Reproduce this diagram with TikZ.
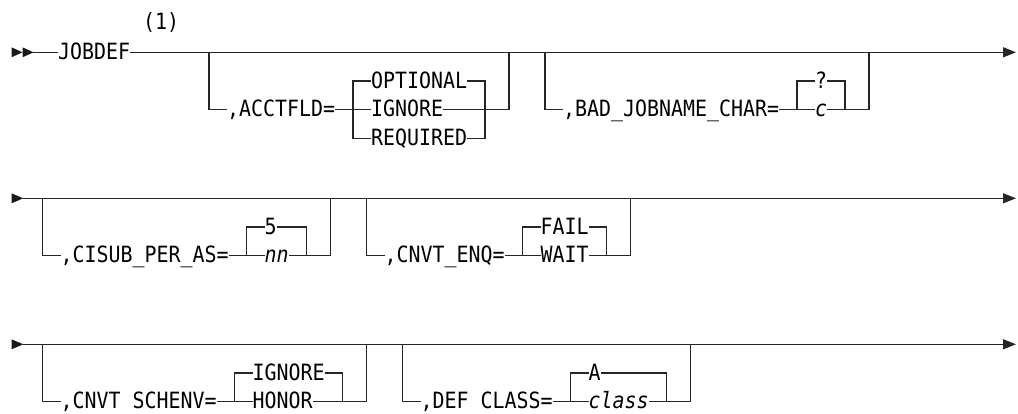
\documentclass[tikz,border=0pt]{standalone}
\usepackage{fontspec}
\newfontfamily\rrmono[FakeStretch=0.89,ItalicFont={DejaVu Sans Mono Oblique}]{DejaVu Sans Mono}
\usetikzlibrary{arrows.meta}
\tikzset{
  rail/.style={line width=1.2pt, draw=black!85},
  railtip/.style={fill=black!90},
  kw/.style={font=\rrmono\fontsize{22.4}{24}\selectfont, inner sep=0pt, outer sep=0pt, anchor=base west, text=black},
  var/.style={kw, font=\rrmono\fontsize{22.4}{24}\selectfont\itshape},
  endtip/.style={-{Triangle[length=13pt,width=10pt]}},
}
\begin{document}
\begin{tikzpicture}[x=1pt,y=-1pt]
\useasboundingbox (0,0) rectangle (1018,413);
% ================= Row 1 =================
\fill[railtip] (11.5,47.3) -- (22.5,52.3) -- (11.5,57.3) -- cycle;
\fill[railtip] (22.5,47.3) -- (33.5,52.3) -- (22.5,57.3) -- cycle;
\coordinate (r1a) at (33.3,52.3);
\coordinate (r1z) at (1016,52.3);
\node[kw] (jobdef) at (58,59.3) {JOBDEF};
\node[kw] (note) at (143,29) {(1)};
\draw[rail] (r1a) -- (jobdef.west |- r1a);
\draw[rail,endtip] (jobdef.east |- r1a) -- (r1z);
% ACCTFLD
\coordinate (aV0) at (209,52.3);
\coordinate (aV1) at (209,109.6);
\node[kw] (acct) at (227,116.6) {,ACCTFLD=};
\coordinate (aL0) at (353,81);
\coordinate (aL1) at (353,109.6);
\coordinate (aL2) at (353,138.3);
\node[kw] (aopt) at (371,88) {OPTIONAL};
\node[kw] (aign) at (371,116.6) {IGNORE};
\node[kw] (areq) at (371,145.3) {REQUIRED};
\coordinate (aR0) at (485,81);
\coordinate (aR1) at (485,109.6);
\coordinate (aR2) at (485,138.3);
\coordinate (aW1) at (509,109.6);
\coordinate (aW0) at (509,52.3);
\draw[rail] (aV0) -- (aV1) -- (acct.west |- aV1);
\draw[rail] (acct.east |- aV1) -- (aL1);
\draw[rail] (aopt.west |- aL0) -- (aL0) -- (aL2) -- (areq.west |- aL2);
\draw[rail] (aign.west |- aL1) -- (aL1);
\draw[rail] (aopt.east |- aR0) -- (aR0) -- (aR2) -- (areq.east |- aR2);
\draw[rail] (aign.east |- aR1) -- (aR1) -- (aW1) -- (aW0);
% BAD_JOBNAME_CHAR
\coordinate (bV0) at (545,52.3);
\coordinate (bV1) at (545,109.6);
\node[kw] (bad) at (563,116.6) {,BAD\_JOBNAME\_CHAR=};
\coordinate (bL0) at (797,81);
\coordinate (bL1) at (797,109.6);
\node[kw] (bq) at (815,88) {?};
\node[var] (bc) at (815,116.6) {c};
\coordinate (bR0) at (845,81);
\coordinate (bR1) at (845,109.6);
\coordinate (bW1) at (869,109.6);
\coordinate (bW0) at (869,52.3);
\draw[rail] (bV0) -- (bV1) -- (bad.west |- bV1);
\draw[rail] (bad.east |- bV1) -- (bL1);
\draw[rail] (bq.west |- bL0) -- (bL0) -- (bL1) -- (bc.west |- bL1);
\draw[rail] (bq.east |- bR0) -- (bR0) -- (bR1) -- (bc.east |- bR1);
\draw[rail] (bR1) -- (bW1) -- (bW0);
% ================= Row 2 =================
\fill[railtip] (11.5,193.3) -- (23.3,198.3) -- (11.5,203.3) -- cycle;
\coordinate (r2a) at (23.3,198.3);
\coordinate (r2z) at (1016,198.3);
\draw[rail,endtip] (r2a) -- (r2z);
% CISUB_PER_AS
\coordinate (cV0) at (42.5,198.3);
\coordinate (cV1) at (42.5,255.7);
\node[kw] (cisub) at (60.5,262.7) {,CISUB\_PER\_AS=};
\coordinate (cL0) at (246.5,227);
\coordinate (cL1) at (246.5,255.7);
\node[kw] (c5) at (264.5,234) {5};
\node[var] (cnn) at (264.5,262.7) {nn};
\coordinate (cR0) at (306.5,227);
\coordinate (cR1) at (306.5,255.7);
\coordinate (cW1) at (330.5,255.7);
\coordinate (cW0) at (330.5,198.3);
\draw[rail] (cV0) -- (cV1) -- (cisub.west |- cV1);
\draw[rail] (cisub.east |- cV1) -- (cL1);
\draw[rail] (c5.west |- cL0) -- (cL0) -- (cL1) -- (cnn.west |- cL1);
\draw[rail] (c5.east |- cR0) -- (cR0) -- (cR1) -- (cnn.east |- cR1);
\draw[rail] (cR1) -- (cW1) -- (cW0);
% CNVT_ENQ
\coordinate (eV0) at (366.5,198.3);
\coordinate (eV1) at (366.5,255.7);
\node[kw] (enq) at (384.5,262.7) {,CNVT\_ENQ=};
\coordinate (eL0) at (522.5,227);
\coordinate (eL1) at (522.5,255.7);
\node[kw] (efail) at (540.5,234) {FAIL};
\node[kw] (ewait) at (540.5,262.7) {WAIT};
\coordinate (eR0) at (606.5,227);
\coordinate (eR1) at (606.5,255.7);
\coordinate (eW1) at (630.5,255.7);
\coordinate (eW0) at (630.5,198.3);
\draw[rail] (eV0) -- (eV1) -- (enq.west |- eV1);
\draw[rail] (enq.east |- eV1) -- (eL1);
\draw[rail] (efail.west |- eL0) -- (eL0) -- (eL1) -- (ewait.west |- eL1);
\draw[rail] (efail.east |- eR0) -- (eR0) -- (eR1) -- (ewait.east |- eR1);
\draw[rail] (eR1) -- (eW1) -- (eW0);
% ================= Row 3 =================
\fill[railtip] (11.5,339.3) -- (23.3,344.3) -- (11.5,349.3) -- cycle;
\coordinate (r3a) at (23.3,344.3);
\coordinate (r3z) at (1016,344.3);
\draw[rail,endtip] (r3a) -- (r3z);
% CNVT_SCHENV
\coordinate (sV0) at (42.5,344.3);
\coordinate (sV1) at (42.5,401.7);
\node[kw] (schenv) at (60.5,408.7) {,CNVT SCHENV=};
\coordinate (sL0) at (234.5,373);
\coordinate (sL1) at (234.5,401.7);
\node[kw] (sign) at (252.5,380) {IGNORE};
\node[kw] (shon) at (252.5,408.7) {HONOR};
\coordinate (sR0) at (342.5,373);
\coordinate (sR1) at (342.5,401.7);
\coordinate (sW1) at (366.5,401.7);
\coordinate (sW0) at (366.5,344.3);
\draw[rail] (sV0) -- (sV1) -- (schenv.west |- sV1);
\draw[rail] (schenv.east |- sV1) -- (sL1);
\draw[rail] (sign.west |- sL0) -- (sL0) -- (sL1) -- (shon.west |- sL1);
\draw[rail] (sign.east |- sR0) -- (sR0) -- (sR1) -- (shon.east |- sR1);
\draw[rail] (sR1) -- (sW1) -- (sW0);
% DEF_CLASS
\coordinate (dV0) at (402.5,344.3);
\coordinate (dV1) at (402.5,401.7);
\node[kw] (defc) at (420.5,408.7) {,DEF CLASS=};
\coordinate (dL0) at (570.5,373);
\coordinate (dL1) at (570.5,401.7);
\node[kw] (dA) at (588.5,380) {A};
\node[var] (dcl) at (588.5,408.7) {class};
\coordinate (dR0) at (666.5,373);
\coordinate (dR1) at (666.5,401.7);
\coordinate (dW1) at (690.5,401.7);
\coordinate (dW0) at (690.5,344.3);
\draw[rail] (dV0) -- (dV1) -- (defc.west |- dV1);
\draw[rail] (defc.east |- dV1) -- (dL1);
\draw[rail] (dA.west |- dL0) -- (dL0) -- (dL1) -- (dcl.west |- dL1);
\draw[rail] (dA.east |- dR0) -- (dR0) -- (dR1) -- (dcl.east |- dR1);
\draw[rail] (dR1) -- (dW1) -- (dW0);
\end{tikzpicture}
\end{document}
